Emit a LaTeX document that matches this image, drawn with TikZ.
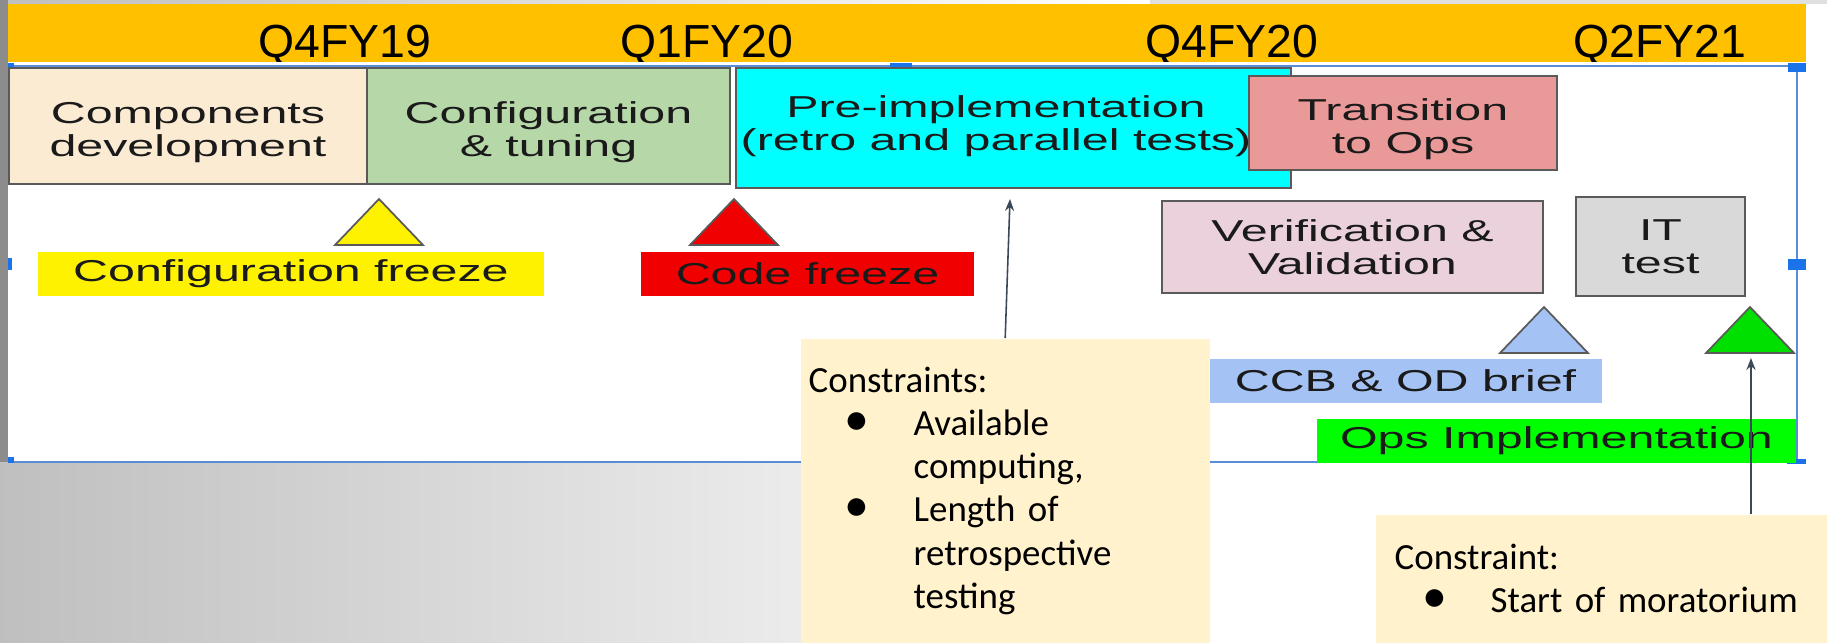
\documentclass[tikz,border=0pt]{standalone}
\usepackage{fontspec}
\newfontfamily\barfont{Liberation Sans}
\newfontfamily\diagfont[FakeStretch=1.6]{Liberation Sans}
\newfontfamily\notefont{Carlito}
\usetikzlibrary{arrows.meta,positioning}

\definecolor{barorange}{HTML}{FFC000}
\definecolor{compfill}{HTML}{FCEBD3}
\definecolor{conffill}{HTML}{B6D7A8}
\definecolor{prefill}{HTML}{00FFFF}
\definecolor{transfill}{HTML}{EA9999}
\definecolor{veriffill}{HTML}{EAD1DC}
\definecolor{itfill}{HTML}{D9D9D9}
\definecolor{ccbfill}{HTML}{A4C2F4}
\definecolor{opsfill}{HTML}{00FF00}
\definecolor{trigreen}{HTML}{00E000}
\definecolor{codered}{HTML}{F00000}
\definecolor{notefill}{HTML}{FFF2CC}
\definecolor{boxline}{HTML}{5A5A5A}
\definecolor{textdark}{HTML}{1A1A1A}
\definecolor{arrowcol}{HTML}{3C4858}
\definecolor{selblue}{HTML}{5B8DD6}
\definecolor{handleblue}{HTML}{1A73E8}

\newcommand{\bul}[3]{\makebox[#2][l]{\hspace{#1}\scalebox{1.35}{\textbullet}}#3}
\newcommand{\lowtxt}{\rule{0pt}{9.8pt}}

\begin{document}
\begin{tikzpicture}[x=0.1mm,y=-0.1mm,
      phase/.style={
         rectangle,
         draw=boxline,
         line width=0.45pt,
         inner sep=0pt,
         align=center,
         text=textdark,
         font=\diagfont\fontsize{8.6pt}{9.5pt}\selectfont},
      tag/.style={
         rectangle,
         inner sep=0pt,
         minimum height=4.4mm,
         text=textdark,
         font=\diagfont\fontsize{8.6pt}{9.5pt}\selectfont},
      quarter/.style={
         anchor=base,
         inner sep=0pt,
         font=\barfont\fontsize{13.2pt}{15pt}\selectfont},
      note/.style={
         rectangle,
         fill=notefill,
         anchor=north west,
         align=left,
         inner ysep=0pt,
         font=\notefont\fontsize{10.5pt}{12.3pt}\selectfont},
      milestone/.style={draw=boxline, line width=0.5pt, line join=miter},
      myarrow/.style={-{Stealth[length=3.4pt,width=2.6pt]}, draw=arrowcol, line width=0.45pt}
      ]
      \useasboundingbox (0,0) rectangle (1827,642);
      % slide background
      \fill[left color=black!25, right color=white] (0,0) rectangle (1150,642);
      \fill[white] (1150,0) rectangle (1827,642);
      \fill[black!12] (1150,0) rectangle (1827,4);
      \fill[black!45] (0,0) rectangle (8,462);
      % quarter bar
      \fill[barorange] (8,4) rectangle (1806,62);
      \foreach \x/\q in {345/Q4FY19, 707/Q1FY20, 1232/Q4FY20, 1660/Q2FY21}
         \node[quarter] (\q) at (\x,57) {\q};
      % picture frame
      \fill[white] (8,62) rectangle (1797,462);
      \draw[selblue, line width=0.5pt] (14,66) -- (1788,66);
      \draw[selblue, line width=0.5pt] (1797,72) -- (1797,459);
      \draw[selblue, line width=0.5pt] (14,462) -- (1787,462);
      \foreach \xa/\ya/\xb/\yb in {8/63/14/72, 890/63/912/72, 1788/63/1806/72,
            8/258/12/270, 1788/259/1806/270, 8/457/14/463, 1787/459/1806/464}
         \fill[handleblue] (\xa,\ya) rectangle (\xb,\yb);

      \node[phase, fill=compfill, minimum width=35.8mm, minimum height=11.6mm] (comp) at (188,126) {\lowtxt Components\\development};
      \node[phase, fill=conffill, minimum width=36.3mm, minimum height=11.6mm] (conf) at (548.5,126) {\lowtxt Configuration\\\&~tuning};
      \node[phase, fill=prefill, minimum width=55.5mm, minimum height=12mm] (pre) at (1013.5,128) {};
      \node[phase, draw=none] (pretext) at (996,126) {Pre-implementation\\(retro and parallel tests)};
      \node[phase, fill=transfill, minimum width=30.8mm, minimum height=9.4mm] (trans) at (1403,123) {\lowtxt Transition\\to Ops};
      \node[phase, fill=veriffill, minimum width=38.1mm, minimum height=9.2mm] (verif) at (1352.5,247) {Verification \&\\Validation};
      \node[phase, fill=itfill, minimum width=16.9mm, minimum height=9.9mm] (ittest) at (1660.5,246.5) {IT\\test};

      \foreach \ax/\ay/\col in {379/199/yellow, 734/199/codered, 1544/307/ccbfill, 1750/307/trigreen}
         \draw[milestone, fill=\col] (\ax,\ay) -- ++(-44,46) -- ++(88,0) -- cycle;

      \node[tag, fill=yellow, minimum width=50.6mm] (cfgfreeze) at (291,274) {Configuration freeze};
      \node[tag, fill=codered, minimum width=33.3mm] (codefreeze) at (807.5,274) {Code freeze};
      \node[tag, fill=ccbfill, minimum width=39.3mm] (ccb) at (1405.5,381) {CCB \& OD brief};
      \node[tag, fill=opsfill, minimum width=47.9mm] (opsimpl) at (1556.5,441) {Ops Implementation};

      \node[note, inner xsep=0.8mm, text width=39.3mm, minimum height=30.4mm] (cons1) at (800,338)
         {Constraints:\\
          \bul{3.6mm}{10.5mm}{Available}\\
          \hspace*{10.5mm}computing,\\
          \bul{3.6mm}{10.5mm}{Length of}\\
          \hspace*{10.5mm}retrospective\\
          \hspace*{10.5mm}testing};
      \node[note, inner xsep=1.9mm, text width=41.4mm, minimum height=12.8mm] (cons2) at (1375,514)
         {Constraint:\\
          \bul{2.8mm}{9.6mm}{Start of moratorium}};

      \coordinate (tipA) at (1010,199);
      \coordinate (tipB) at (1751,358);
      \draw[myarrow] (cons1.north) -- (tipA);
      \draw[myarrow] (tipB |- cons2.north) -- (tipB);
\end{tikzpicture}
\end{document}
